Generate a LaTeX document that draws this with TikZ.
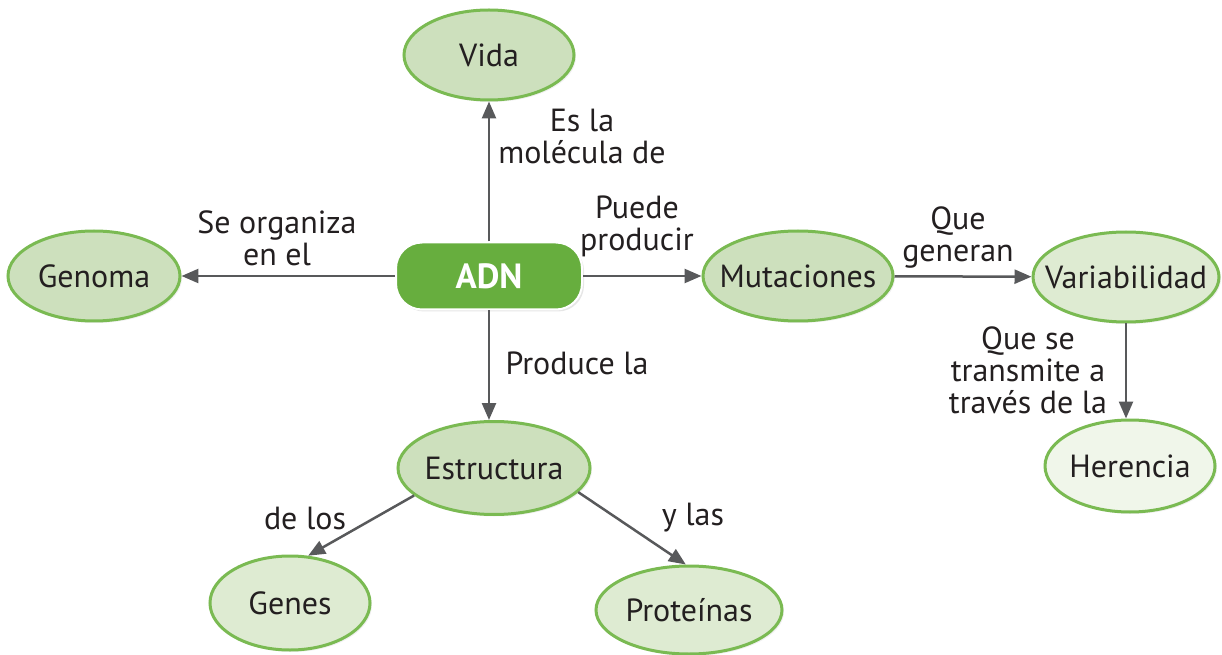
\documentclass[tikz,border=0pt]{standalone}
\usepackage{fontspec}
\setmainfont{PT Sans}
\usepackage{tikz}
\usetikzlibrary{arrows.meta, positioning, shapes.geometric, shadows}
\definecolor{adngreen}{RGB}{103,174,62}
\definecolor{rimgreen}{RGB}{122,186,82}
\definecolor{fillmid}{RGB}{205,224,189}
\definecolor{filllight}{RGB}{222,235,210}
\definecolor{filllighter}{RGB}{240,246,234}
\definecolor{linkgrey}{RGB}{88,89,91}
\definecolor{inkgrey}{RGB}{35,31,32}

\begin{document}
\begin{tikzpicture}[x=1pt,y=1pt,node distance=200pt,>={Triangle[length=17pt,width=14pt]},
  concept/.style={ellipse, draw=rimgreen, line width=3pt, fill=fillmid, inner sep=0pt, text=inkgrey,
    font=\fontsize{32}{32}\selectfont, drop shadow={opacity=0.12, shadow xshift=2pt, shadow yshift=-2pt},
    execute at begin node=\hbox to 0pt\bgroup\hss, execute at end node=\hss\egroup},
  mainbox/.style={rectangle, rounded corners=26pt, fill=adngreen, draw=white, line width=2pt,
    minimum width=186pt, minimum height=67pt, text=white, font=\bfseries\fontsize{35}{36}\selectfont,
    drop shadow={opacity=0.2, shadow xshift=2pt, shadow yshift=-2pt}},
  lbl/.style={align=center, inner sep=0pt, text=inkgrey, font=\fontsize{32}{32}\selectfont},
  link/.style={->, draw=linkgrey, line width=2.5pt}]
  \useasboundingbox (-489,-379) rectangle (733,276);

  \node (adn) [mainbox] {ADN};
  \node (vida) [concept, above of=adn, yshift=21pt, minimum width=170pt, minimum height=90pt] {Vida};
  \node (genoma) [concept, left of=adn, xshift=-195pt, minimum width=172pt, minimum height=90pt] {Genoma};
  \node (mut) [concept, right of=adn, xshift=109pt, minimum width=190pt, minimum height=90pt] {Mutaciones};
  \node (var) [concept, right of=mut, xshift=128pt, yshift=-1pt, fill=filllight, minimum width=186pt, minimum height=90pt] {Variabilidad};
  \node (her) [concept, below of=var, yshift=11pt, xshift=4pt, fill=filllighter, minimum width=170pt, minimum height=92pt] {Herencia};
  \node (estr) [concept, below of=adn, yshift=8pt, xshift=5pt, minimum width=192pt, minimum height=93pt] {Estructura};
  \node (genes) [concept, below of=estr, yshift=65pt, xshift=-204pt, fill=filllight, minimum width=160pt, minimum height=94pt] {Genes};
  \node (prot) [concept, below of=estr, yshift=58pt, xshift=195pt, fill=filllight, minimum width=186pt, minimum height=88pt] {Proteínas};

  \node (tvida) [lbl] at (93,140) {Es la\\molécula de};
  \node (tgenoma) [lbl] at (-212,38) {Se organiza\\en el};
  \node (tmut) [lbl] at (148,50) {Puede\\producir};
  \node (tvar) [lbl] at (469,38) {Que\\generan};
  \node (ther) [lbl] at (539,-94) {Que se\\transmite a\\través de la};
  \node (testr) [lbl] at (88,-87) {Produce la};
  \node (tgenes) [lbl] at (-184,-242) {de los};
  \node (tprot) [lbl] at (204,-242) {y las};

  \draw[link] (adn) -- (vida);
  \draw[link] (adn) -- (genoma);
  \draw[link] (adn) -- (mut);
  \draw[link] (mut) -- (var);
  \draw[link] (var) -- (var |- her.north);
  \draw[link] (adn.south) -- (adn.south |- estr.north);
  \draw[link] (estr.199) -- (genes.69);
  \draw[link] (estr.344) -- (prot.94);
\end{tikzpicture}
\end{document}
